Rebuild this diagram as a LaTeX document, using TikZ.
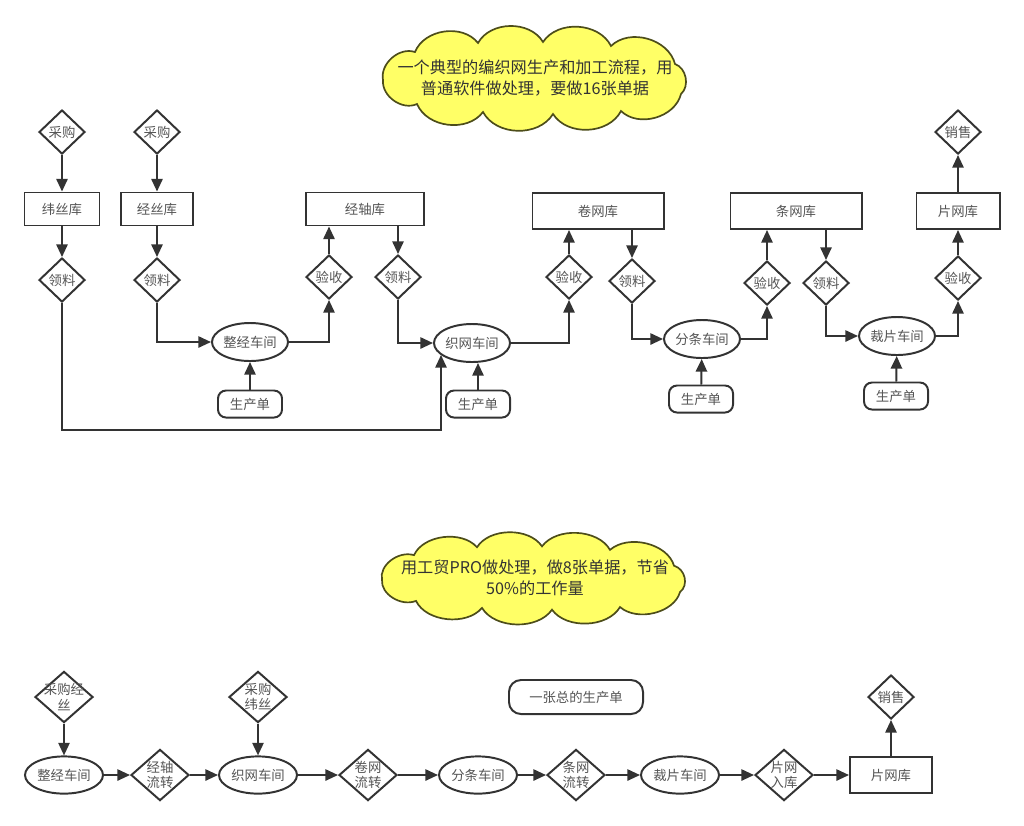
\documentclass[tikz,border=0pt]{standalone}
\usepackage{fontspec}
\setmainfont{Noto Sans CJK SC}
\usetikzlibrary{arrows.meta,shapes.geometric}

\definecolor{inkgray}{HTML}{333333}
\definecolor{txtgray}{HTML}{555555}
\definecolor{cloudfill}{HTML}{FFFF66}
\definecolor{cloudline}{HTML}{4D4D1A}

\begin{document}
\begin{tikzpicture}[x=0.025cm,y=-0.025cm,
    every node/.style={font=\fontsize{9.5}{11}\selectfont,text=txtgray},
    stock/.style={rectangle,draw=inkgray,line width=1.4pt,minimum height=0.825cm,inner sep=0pt},
    check/.style={diamond,draw=inkgray,line width=1.4pt,minimum width=1.15cm,minimum height=1.1cm,inner sep=0pt},
    pass/.style={diamond,draw=inkgray,line width=1.4pt,minimum width=1.45cm,minimum height=1.28cm,inner sep=-4pt,align=center},
    shop/.style={ellipse,draw=inkgray,line width=1.4pt,minimum width=1.9cm,minimum height=0.95cm,inner sep=0pt},
    order/.style={rectangle,rounded corners=0.2cm,draw=inkgray,line width=1.4pt,minimum width=1.6cm,minimum height=0.675cm},
    puff/.style={draw=cloudline,fill=cloudfill,line width=1.2pt},
    notetext/.style={align=center,text=inkgray,font=\fontsize{11.5}{15}\selectfont},
    flow/.style={draw=inkgray,line width=1.4pt,-{Triangle[length=9pt,width=8pt]}}]
      \fill[white] (0,0) rectangle (1024,825);
      \useasboundingbox (0,0) rectangle (1024,825);

      \foreach \cx/\cy/\ys in {533/78/1,532/578/0.88}
        \draw [puff,shift={(\cx,\cy)},yscale=\ys]
          (-150,2) to[bend left=60] (-118,-26) to[bend left=60] (-55,-35)
          to[bend left=60] (10,-36) to[bend left=60] (78,-32) to[bend left=60] (142,-14)
          to[bend left=60] (148,16) to[bend left=60] (88,33) to[bend left=60] (20,36)
          to[bend left=60] (-50,34) to[bend left=60] (-116,26) to[bend left=60] cycle;
      \node [notetext] (memoA) at (535,78) {一个典型的编织网生产和加工流程，用\\普通软件做处理，要做16张单据};

      \node [check] (buyA) at (62,132) {采购};
      \node [check] (buyB) at (157,132) {采购};
      \node [stock,minimum width=1.875cm] (weft) at (62,209) {纬丝库};
      \node [stock,minimum width=1.8cm] (warp) at (157,209) {经丝库};
      \node [stock,minimum width=2.95cm] (beam) at (365,209) {经轴库};
      \node [check] (takeA) at (62,280) {领料};
      \node [check] (takeB) at (157,280) {领料};
      \node [check] (accA) at (329,277) {验收};
      \node [check] (takeC) at (398,277) {领料};
      \node [shop] (warpshop) at (250,342) {整经车间};
      \node [order] (ordA) at (250,404) {生产单};
      \node [shop] (weaveshop) at (472,343) {织网车间};
      \node [order] (ordB) at (478,404) {生产单};
      \node [stock,minimum width=3.275cm,minimum height=0.9cm] (roll) at (598,211) {卷网库};
      \node [check] (accB) at (569,277) {验收};
      \node [check] (takeD) at (632,281) {领料};
      \node [shop] (slitshop) at (702,339) {分条车间};
      \node [order] (ordC) at (701,399) {生产单};
      \node [stock,minimum width=3.275cm,minimum height=0.9cm] (strip) at (796,211) {条网库};
      \node [check] (accC) at (767,283) {验收};
      \node [check] (takeE) at (826,283) {领料};
      \node [shop] (cutshop) at (897,336) {裁片车间};
      \node [order] (ordD) at (896,396) {生产单};
      \node [stock,minimum width=2.075cm,minimum height=0.9cm] (sheet) at (958,211) {片网库};
      \node [check] (accD) at (958,278) {验收};
      \node [check] (sellA) at (958,132) {销售};
      \coordinate (weftturn) at (441,430);

      \draw [flow] (buyA) -- (weft);
      \draw [flow] (weft) -- (takeA);
      \draw [flow] (buyB) -- (warp);
      \draw [flow] (warp) -- (takeB);
      \draw [flow] (takeB.south) |- (warpshop.west);
      \draw [flow] (ordA) -- (warpshop);
      \draw [flow] (warpshop.east) -| (accA.south);
      \draw [flow] (accA.north) -- (accA.north |- beam.south);
      \draw [flow] (beam.south -| takeC) -- (takeC.north);
      \draw [flow] (takeC.south) |- (weaveshop.west);
      \draw [flow] (takeA.south) |- (weftturn) -- (weftturn |- weaveshop.201);
      \draw [flow] (ordB.north) -- (ordB.north |- weaveshop.south);
      \draw [flow] (weaveshop.east) -| (accB.south);
      \draw [flow] (accB.north) -- (accB.north |- roll.south);
      \draw [flow] (roll.south -| takeD) -- (takeD.north);
      \draw [flow] (takeD.south) |- (slitshop.west);
      \draw [flow] (ordC) -- (slitshop);
      \draw [flow] (slitshop.east) -| (accC.south);
      \draw [flow] (accC.north) -- (accC.north |- strip.south);
      \draw [flow] (strip.south -| takeE) -- (takeE.north);
      \draw [flow] (takeE.south) |- (cutshop.west);
      \draw [flow] (ordD) -- (cutshop);
      \draw [flow] (cutshop.east) -| (accD.south);
      \draw [flow] (accD) -- (sheet);
      \draw [flow] (sheet) -- (sellA);

      \node [notetext] (memoB) at (535,578) {用工贸PRO做处理，做8张单据，节省\\50\%的工作量};

      \node [pass] (buywarp) at (64,697) {采购经\\丝};
      \node [shop,minimum width=1.95cm,minimum height=0.93cm] (warpshopB) at (64,775) {整经车间};
      \node [pass] (beammove) at (160,775) {经轴\\流转};
      \node [shop,minimum width=1.95cm,minimum height=0.93cm] (weaveshopB) at (258,775) {织网车间};
      \node [pass] (buyweft) at (258,697) {采购\\纬丝};
      \node [pass] (rollmove) at (368,775) {卷网\\流转};
      \node [shop,minimum width=1.95cm,minimum height=0.93cm] (slitshopB) at (478,775) {分条车间};
      \node [pass] (stripmove) at (576,775) {条网\\流转};
      \node [shop,minimum width=1.95cm,minimum height=0.93cm] (cutshopB) at (680,775) {裁片车间};
      \node [pass] (sheetin) at (784,775) {片网\\入库};
      \node [stock,minimum width=2.05cm,minimum height=0.9cm] (sheetB) at (891,775) {片网库};
      \node [check] (sellB) at (891,697) {销售};
      \node [order,minimum width=3.35cm,minimum height=0.85cm,rounded corners=0.3cm] (master) at (576,697) {一张总的生产单};

      \draw [flow] (buywarp) -- (warpshopB);
      \draw [flow] (warpshopB) -- (beammove);
      \draw [flow] (beammove) -- (weaveshopB);
      \draw [flow] (buyweft) -- (weaveshopB);
      \draw [flow] (weaveshopB) -- (rollmove);
      \draw [flow] (rollmove) -- (slitshopB);
      \draw [flow] (slitshopB) -- (stripmove);
      \draw [flow] (stripmove) -- (cutshopB);
      \draw [flow] (cutshopB) -- (sheetin);
      \draw [flow] (sheetin) -- (sheetB);
      \draw [flow] (sheetB) -- (sellB);
    \end{tikzpicture}
\end{document}
